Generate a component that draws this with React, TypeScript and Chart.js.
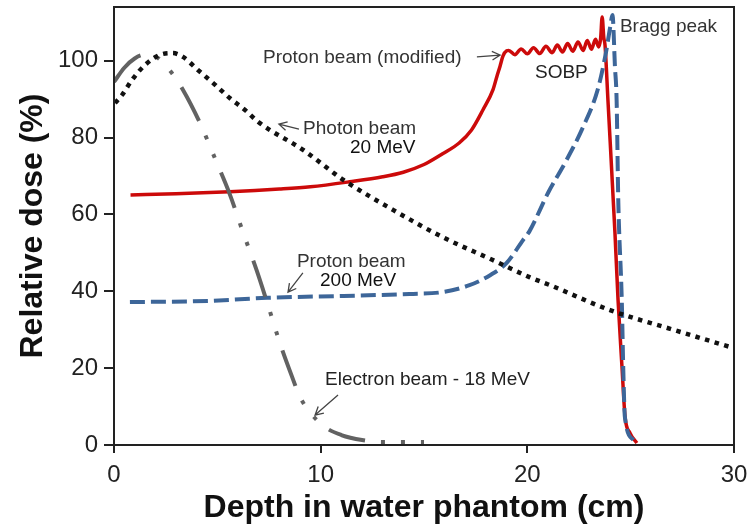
import React, { useEffect, useRef } from 'react';
import { Chart, registerables } from 'chart.js';

Chart.register(...registerables);

// ---------- Data (depth in cm, relative dose in %) ----------
const protonModDepth = [0.8, 3, 5.6, 8, 9.5, 11.4, 13, 14, 15, 15.9, 16.7, 17.3, 17.85, 18.34, 18.53, 18.68, 18.82, 19.0,
  19.1, 19.4, 19.7, 20.0, 20.3, 20.6, 20.9, 21.2, 21.45, 21.7, 21.95, 22.2, 22.45, 22.7, 22.9, 23.1, 23.3, 23.45, 23.55,
  23.62, 23.7, 23.76, 23.9, 24.24, 24.39, 24.58, 24.73, 24.97, 25.3];
const protonModDose = [65.1, 65.4, 65.9, 66.6, 67.2, 68.5, 69.8, 71.0, 73.0, 75.8, 78.6, 82.0, 87.2, 92.5, 96.0, 98.6, 101.2, 102.6,
  102.7, 101.6, 103.1, 101.8, 103.4, 101.9, 103.8, 102.1, 104.1, 102.3, 104.5, 102.5, 104.9, 102.7, 105.3, 103.0, 105.6, 103.6, 106.0,
  111.4, 106.0, 104.0, 89.8, 55.2, 37.7, 20.3, 7.3, 3.1, 0.5];

const proton200Depth = [0.77, 4.6, 7.4, 11.1, 14.3, 15.9, 17.2, 18.2, 19.0, 19.8, 20.1, 21.0, 21.9, 22.7, 23.4, 23.8, 24.0, 24.12,
  24.24, 24.32, 24.40, 24.57, 24.64, 24.72, 25.13];
const proton200Dose = [37.2, 37.5, 38.3, 38.8, 39.3, 39.8, 41.6, 44.2, 47.4, 53.4, 55.6, 65.6, 74.2, 82.8, 92.4, 102.0, 108.5, 111.9,
  98.4, 89.8, 63.8, 37.7, 20.3, 7.3, 1.3];

const photonDepth = [0.05, 0.39, 0.87, 1.5, 2.37, 2.85, 3.34, 4.06, 4.8, 5.6, 6.34, 7.0, 9.15, 11.1, 13.5, 15.9, 18.3, 20.1, 21.1, 24.0, 27.0, 30.0];
const photonDose = [89.0, 91.1, 95.0, 98.9, 101.8, 102.0, 101.0, 97.6, 94.2, 90.3, 87.2, 84.0, 76.8, 69.0, 61.2, 54.1, 48.2, 43.7, 41.6, 35.1, 30.1, 25.2];

const electronDepth = [0, 0.5, 1.0, 1.5, 2.08, 2.8, 3.34, 4.16, 4.94, 5.6, 6.24, 6.9, 7.45, 8.03, 8.6, 9.0, 9.5, 10.2, 11.0, 12.0, 13.0, 14.0, 15.0];
const electronDose = [94.5, 98.2, 100.6, 101.6, 100.9, 96.8, 92.4, 83.8, 73.9, 65.3, 55.4, 45.5, 36.4, 26.5, 18.0, 12.5, 8.4, 4.7, 2.6, 1.3, 0.8, 0.8, 0.8];

const xTicks = [0, 10, 20, 30];
const yTicks = [0, 20, 40, 60, 80, 100];

const xTitle = 'Depth in water phantom (cm)';
const yTitle = 'Relative dose (%)';

// annotation texts (positions in data units)
const noteTexts = [
  { text: 'Proton beam (modified)', x: 7.21, y: 100.7, color: '#333' },
  { text: 'SOBP', x: 20.37, y: 96.8, color: '#222' },
  { text: 'Bragg peak', x: 24.48, y: 108.8, color: '#333' },
  { text: 'Photon beam', x: 9.15, y: 82.2, color: '#333' },
  { text: '20 MeV', x: 11.42, y: 77.3, color: '#111' },
  { text: 'Proton beam', x: 8.85, y: 47.6, color: '#333' },
  { text: '200 MeV', x: 9.97, y: 42.7, color: '#111' },
  { text: 'Electron beam - 18 MeV', x: 10.21, y: 16.9, color: '#222' },
];
const noteArrows = [
  { x1: 17.56, y1: 101.0, x2: 18.68, y2: 101.5 },
  { x1: 8.95, y1: 82.2, x2: 7.98, y2: 83.5 },
  { x1: 9.14, y1: 44.8, x2: 8.42, y2: 39.8 },
  { x1: 10.84, y1: 13.0, x2: 9.73, y2: 7.8 },
];

const FONT = '"Liberation Sans", Arial, Helvetica, sans-serif';

const zip = (xs: number[], ys: number[]) => xs.map((x, i) => ({ x, y: ys[i] }));

const notesPlugin = {
  id: 'notesPlugin',
  afterDatasetsDraw(chart: any) {
    const { ctx, chartArea, scales } = chart;
    const xs = scales.x;
    const ys = scales.y;
    ctx.save();
    ctx.strokeStyle = '#222';
    ctx.lineWidth = 2;
    ctx.strokeRect(chartArea.left, chartArea.top, chartArea.right - chartArea.left, chartArea.bottom - chartArea.top);

    ctx.font = `19px ${FONT}`;
    ctx.textAlign = 'left';
    ctx.textBaseline = 'middle';
    for (const t of noteTexts) {
      ctx.fillStyle = t.color;
      ctx.fillText(t.text, xs.getPixelForValue(t.x), ys.getPixelForValue(t.y));
    }
    ctx.strokeStyle = '#444';
    ctx.lineWidth = 1.3;
    for (const a of noteArrows) {
      const x1 = xs.getPixelForValue(a.x1);
      const y1 = ys.getPixelForValue(a.y1);
      const x2 = xs.getPixelForValue(a.x2);
      const y2 = ys.getPixelForValue(a.y2);
      const ang = Math.atan2(y2 - y1, x2 - x1);
      const h = 9;
      ctx.beginPath();
      ctx.moveTo(x1, y1);
      ctx.lineTo(x2, y2);
      ctx.moveTo(x2 - h * Math.cos(ang - 0.5), y2 - h * Math.sin(ang - 0.5));
      ctx.lineTo(x2, y2);
      ctx.lineTo(x2 - h * Math.cos(ang + 0.5), y2 - h * Math.sin(ang + 0.5));
      ctx.stroke();
    }
    ctx.restore();
  },
};

export default function App() {
  const ref = useRef<HTMLCanvasElement | null>(null);

  useEffect(() => {
    document.body.style.margin = '0';
    if (!ref.current) return;
    const chart = new Chart(ref.current, {
      type: 'line',
      data: {
        datasets: [
          {
            label: 'Photon beam 20 MeV',
            data: zip(photonDepth, photonDose),
            borderColor: '#111',
            borderWidth: 4.5,
            borderDash: [4.5, 5.5],
            pointRadius: 0,
            cubicInterpolationMode: 'monotone',
          },
          {
            label: 'Electron beam - 18 MeV',
            data: zip(electronDepth, electronDose),
            borderColor: '#626262',
            borderWidth: 4,
            borderDash: [38, 16, 4, 16, 4, 16],
            pointRadius: 0,
            cubicInterpolationMode: 'monotone',
          },
          {
            label: 'Proton beam 200 MeV',
            data: zip(proton200Depth, proton200Dose),
            borderColor: '#3d6699',
            borderWidth: 4,
            borderDash: [15, 6],
            pointRadius: 0,
            cubicInterpolationMode: 'monotone',
          },
          {
            label: 'Proton beam (modified)',
            data: zip(protonModDepth, protonModDose),
            borderColor: '#cc0a0a',
            borderWidth: 3.5,
            pointRadius: 0,
            cubicInterpolationMode: 'monotone',
          },
        ],
      },
      options: {
        animation: false,
        responsive: true,
        maintainAspectRatio: false,
        layout: { padding: { top: 7, right: 15, left: 0, bottom: 0 } },
        plugins: { legend: { display: false }, tooltip: { enabled: false } },
        scales: {
          x: {
            type: 'linear',
            min: 0,
            max: 30,
            afterBuildTicks: (s: any) => { s.ticks = xTicks.map((v) => ({ value: v })); },
            afterFit: (s: any) => { s.height = 82; s.paddingLeft = 0; s.paddingRight = 0; },
            ticks: { font: { size: 24, family: FONT }, color: '#222', padding: 8 },
            grid: { drawOnChartArea: false, tickLength: 8, color: '#222', lineWidth: 2 },
            border: { display: true, color: '#222', width: 2 },
            title: { display: true, text: xTitle, color: '#111', font: { size: 32, weight: 'bold', family: FONT }, padding: { top: 0, bottom: 0 } },
          },
          y: {
            type: 'linear',
            min: 0,
            max: 114,
            afterBuildTicks: (s: any) => { s.ticks = yTicks.map((v) => ({ value: v })); },
            afterFit: (s: any) => { s.width = 114; s.paddingTop = 0; s.paddingBottom = 0; },
            ticks: { font: { size: 24, family: FONT }, color: '#222', padding: 6 },
            grid: { drawOnChartArea: false, tickLength: 10, color: '#222', lineWidth: 2 },
            border: { display: true, color: '#222', width: 2 },
            title: { display: true, text: yTitle, color: '#111', font: { size: 32, weight: 'bold', family: FONT }, padding: { top: 14, bottom: 0 } },
          },
        },
      } as any,
      plugins: [notesPlugin],
    });
    return () => chart.destroy();
  }, []);

  return (
    <div style={{ position: 'absolute', left: 0, top: 0, width: 749, height: 527, background: '#fff' }}>
      <canvas ref={ref} />
    </div>
  );
}
